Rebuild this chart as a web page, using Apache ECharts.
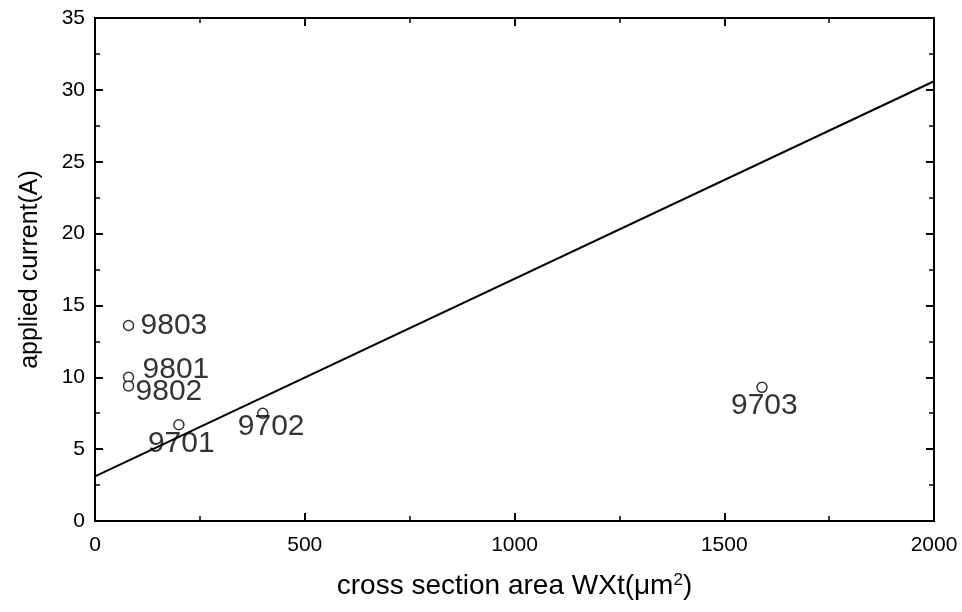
<!DOCTYPE html>
<html><head><meta charset="utf-8">
<script src="https://cdn.jsdelivr.net/npm/echarts@6/dist/echarts.min.js"></script>
<style>html,body{margin:0;padding:0;background:#fff}#c{width:962px;height:612px}</style>
</head><body><div id="c"></div>
<script>
// data
var sampleNames = ['9803', '9801', '9802', '9701', '9702', '9703'];
var sampleArea = [80, 80, 80, 200, 400, 1590];
var sampleCurrent = [13.6, 10.0, 9.4, 6.7, 7.5, 9.3];
var fitX = [0, 2000];
var fitY = [3.1, 30.6];
var xTicks = [0, 500, 1000, 1500, 2000];
var yTicks = [0, 5, 10, 15, 20, 25, 30, 35];

// label placement (style, not data)
var labelOffsets = {
  '9803': [12, 0], '9801': [14, -8], '9802': [7, 6],
  '9701': [-31, 19], '9702': [-25, 14], '9703': [-31, 18]
};

var font = 'Liberation Sans, Arial, sans-serif';
var pts = sampleNames.map(function (n, i) {
  return {
    value: [sampleArea[i], sampleCurrent[i]],
    name: n,
    label: {
      show: true, formatter: n, position: 'inside', align: 'left', verticalAlign: 'middle',
      offset: labelOffsets[n], fontSize: 30, fontFamily: font, color: '#000'
    }
  };
});
var fit = fitX.map(function (x, i) { return [x, fitY[i]]; });

function axisCommon() {
  return {
    type: 'value',
    axisLine: { show: true, onZero: false, lineStyle: { color: '#000', width: 2 } },
    axisTick: { show: true, inside: true, length: 8, lineStyle: { color: '#000', width: 2 } },
    minorTick: { show: true, splitNumber: 2, length: 5, lineStyle: { color: '#000', width: 1.5 } },
    splitLine: { show: false }
  };
}
function plain(v) { return String(v); }

var chart = echarts.init(document.getElementById('c'), null, { renderer: 'canvas' });
chart.setOption({
  animation: false,
  backgroundColor: '#fff',
  grid: { left: 95, right: 28, top: 18, bottom: 91 },
  xAxis: [
    Object.assign(axisCommon(), {
      position: 'bottom',
      min: xTicks[0], max: xTicks[xTicks.length - 1], interval: 500,
      name: 'cross section area WXt(μm{sup|2})', nameLocation: 'middle', nameGap: 51,
      nameTextStyle: {
        fontSize: 28, fontFamily: font, color: '#000',
        rich: { sup: { fontSize: 17, fontFamily: font, color: '#000', verticalAlign: 'top', padding: [0, 0, 12, 0] } }
      },
      axisLabel: { fontSize: 21, fontFamily: font, color: '#000', margin: 14, formatter: plain }
    }),
    Object.assign(axisCommon(), {
      position: 'top', min: xTicks[0], max: xTicks[xTicks.length - 1], interval: 500,
      axisLabel: { show: false }
    })
  ],
  yAxis: [
    Object.assign(axisCommon(), {
      position: 'left',
      min: yTicks[0], max: yTicks[yTicks.length - 1], interval: 5,
      name: 'applied current(A)', nameLocation: 'middle', nameGap: 52, nameRotate: 90,
      nameTextStyle: { fontSize: 25, fontFamily: font, color: '#000' },
      axisLabel: { fontSize: 21, fontFamily: font, color: '#000', margin: 10, formatter: plain }
    }),
    Object.assign(axisCommon(), {
      position: 'right', min: yTicks[0], max: yTicks[yTicks.length - 1], interval: 5,
      axisLabel: { show: false }
    })
  ],
  series: [
    {
      type: 'line', data: fit, symbol: 'none',
      lineStyle: { color: '#000', width: 2 }, silent: true
    },
    {
      type: 'scatter', data: pts, symbol: 'circle', symbolSize: 10,
      itemStyle: { color: '#fff', borderColor: '#000', borderWidth: 1.5 }
    }
  ]
});
</script></body></html>
